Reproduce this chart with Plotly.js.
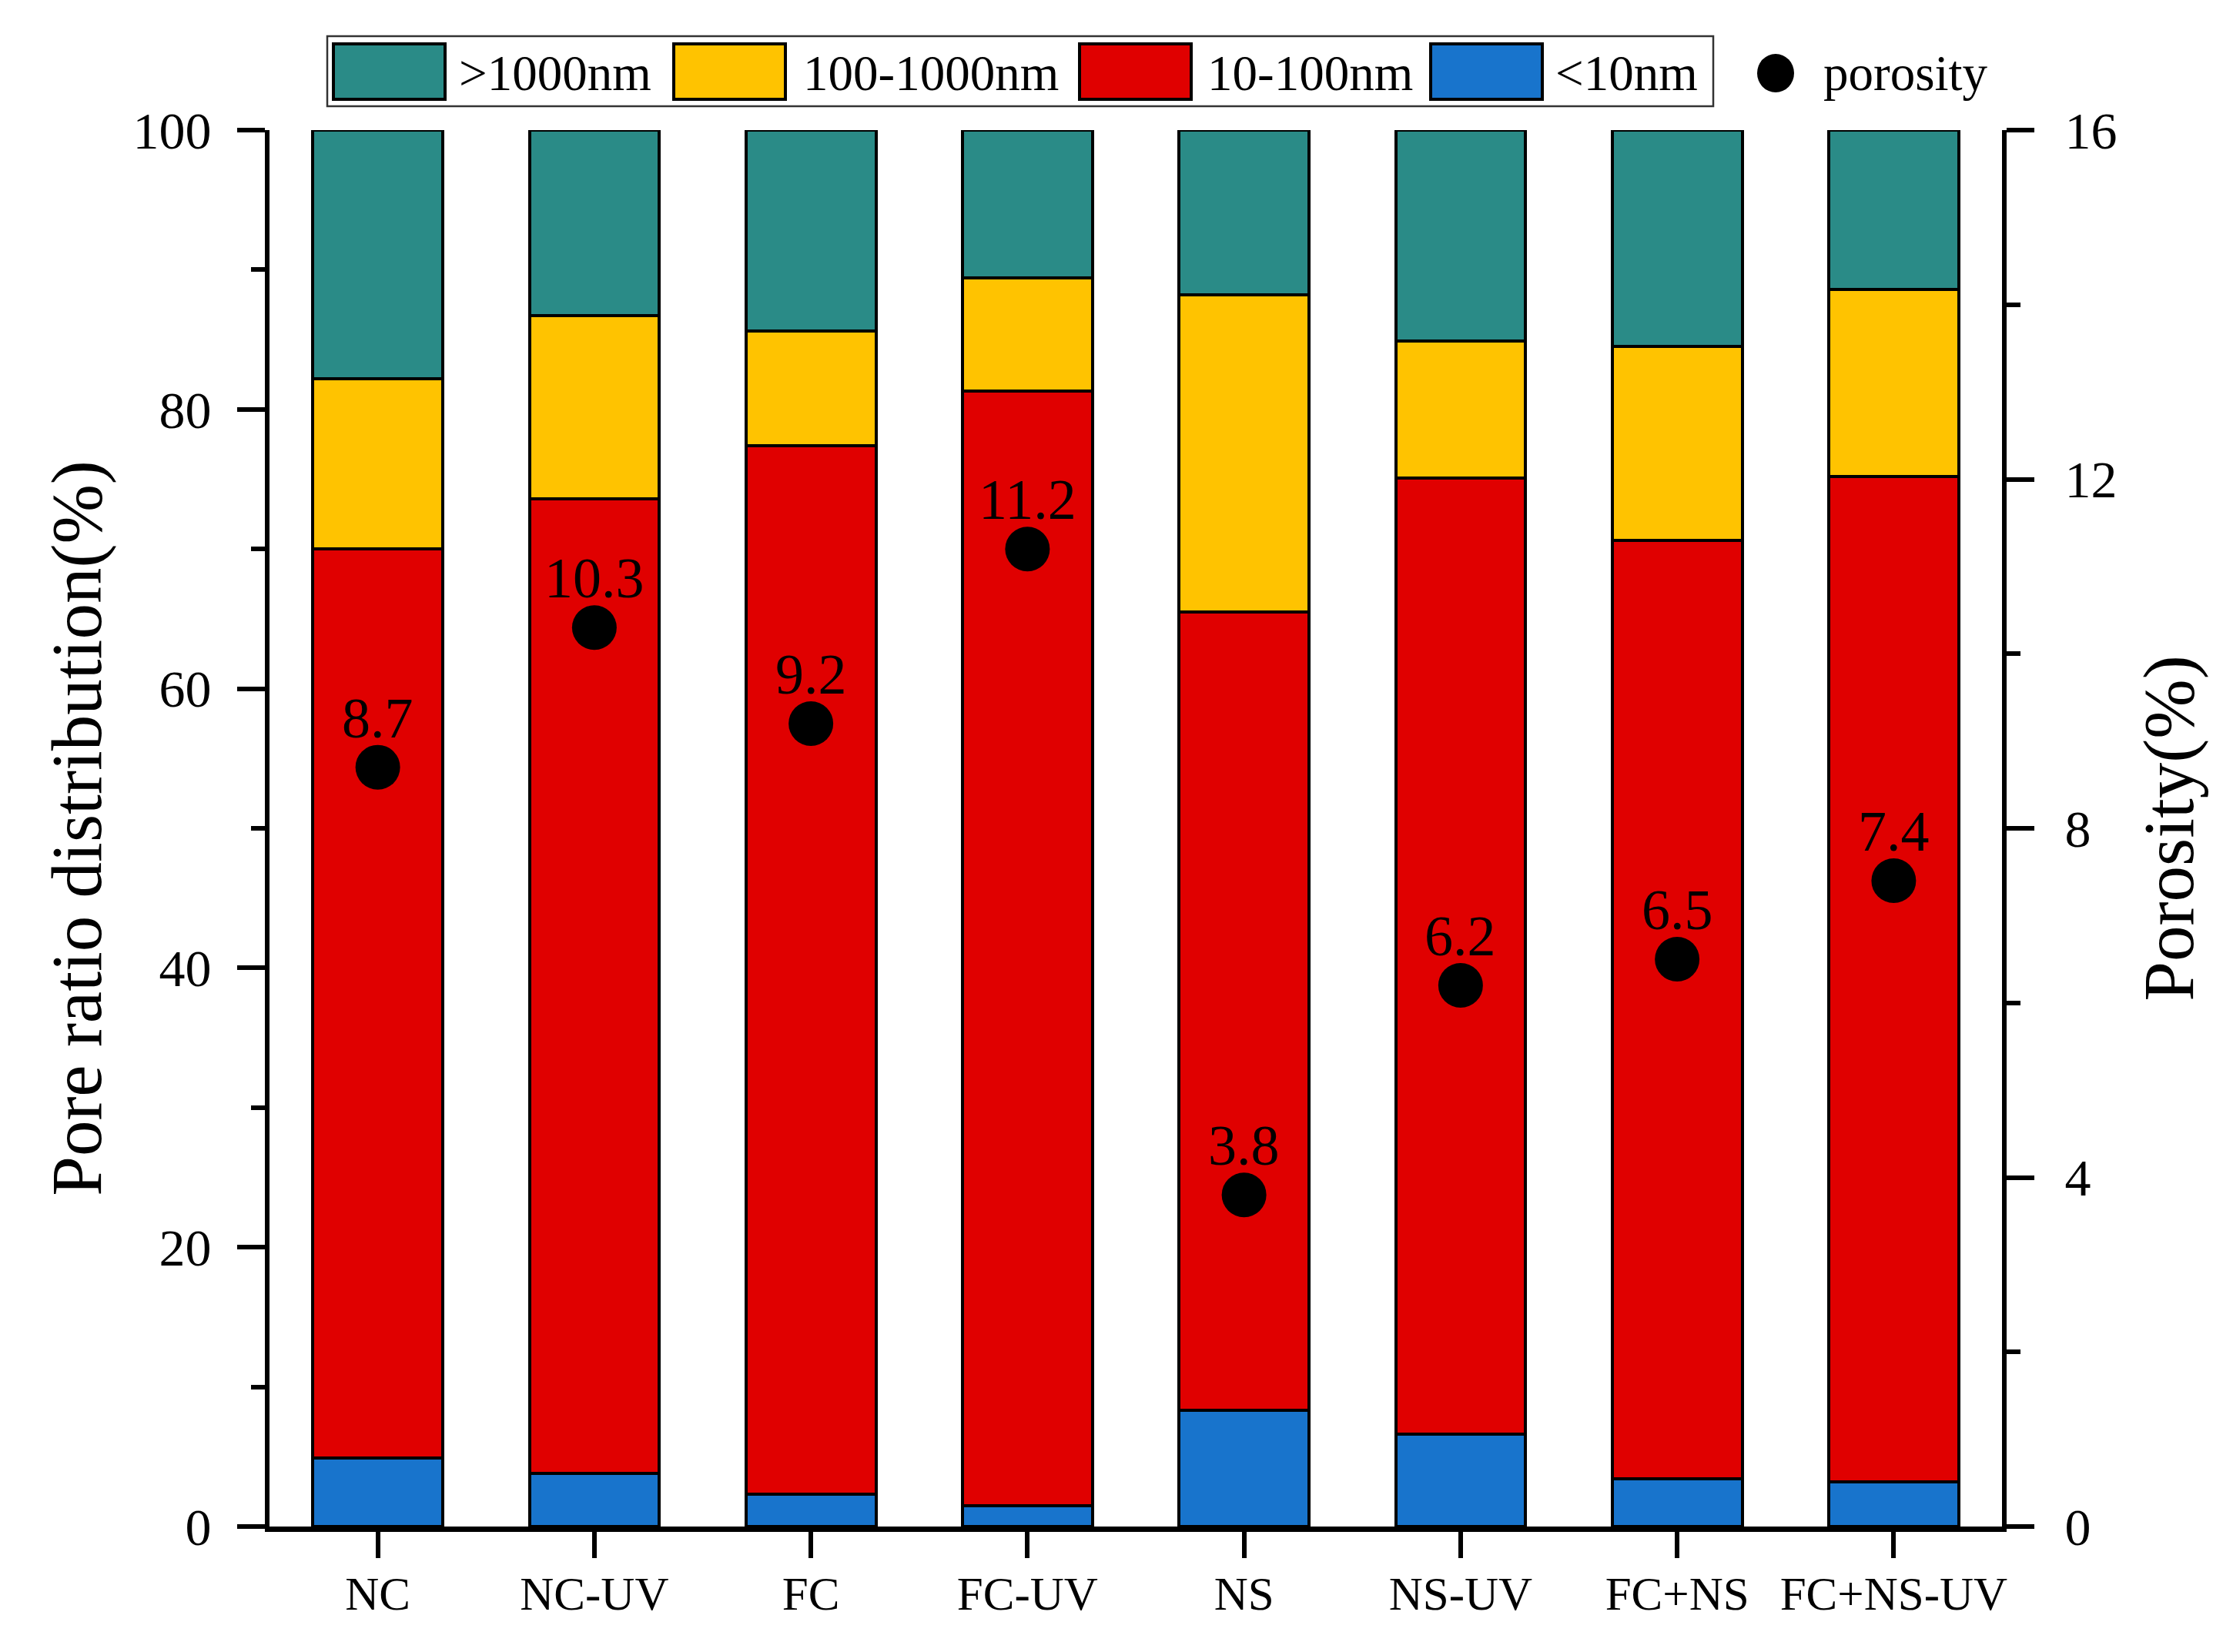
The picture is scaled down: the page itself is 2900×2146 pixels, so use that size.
<!DOCTYPE html>
<html>
<head>
<meta charset="utf-8">
<script src="https://cdn.plot.ly/plotly-3.0.1.min.js"></script>
<style>
  html, body { margin: 0; padding: 0; background: white; }
  #chart { width: 2900px; height: 2146px; }
</style>
</head>
<body>
<div id="chart"></div>
<script>
// pore size distribution (stacked %, bottom to top) + porosity on right axis
const samples = ['NC', 'NC-UV', 'FC', 'FC-UV', 'NS', 'NS-UV', 'FC+NS', 'FC+NS-UV'];
const poreLt10 = [4.9, 3.8, 2.3, 1.5, 8.3, 6.6, 3.4, 3.2];
const pore10to100 = [65.1, 69.8, 75.1, 79.8, 57.2, 68.5, 67.2, 72.0];
const pore100to1000 = [12.2, 13.1, 8.2, 8.1, 22.7, 9.8, 13.9, 13.4];
const poreGt1000 = [17.8, 13.3, 14.4, 10.6, 11.8, 15.1, 15.5, 11.4];
const porosity = [8.7, 10.3, 9.2, 11.2, 3.8, 6.2, 6.5, 7.4];

const seriesNames = ['>1000nm', '100-1000nm', '10-100nm', '<10nm'];
const seriesColors = ['#2a8b87', '#ffc300', '#e00000', '#1874cc'];

const FONT = 'Liberation Serif, Times New Roman, serif';
const W = 2900, H = 2146;
const M = { l: 350, r: 300, t: 169, b: 163 };

function bar(name, vals, color) {
  return {
    type: 'bar',
    name: name,
    x: samples,
    y: vals,
    width: 0.6,
    marker: { color: color, line: { color: 'black', width: 4 } },
    showlegend: false
  };
}

const traces = [
  bar(seriesNames[3], poreLt10, seriesColors[3]),
  bar(seriesNames[2], pore10to100, seriesColors[2]),
  bar(seriesNames[1], pore100to1000, seriesColors[1]),
  bar(seriesNames[0], poreGt1000, seriesColors[0]),
  {
    type: 'scatter',
    name: 'porosity',
    x: samples,
    y: porosity,
    yaxis: 'y2',
    mode: 'markers',
    marker: { color: 'black', size: 58 },
    cliponaxis: false,
    showlegend: false
  }
];

// --- hand-made legend (big swatches like the original) ---
const plotW = W - M.l - M.r, plotH = H - M.t - M.b;
const px = v => (v - M.l) / plotW;
const py = v => (H - M.b - v) / plotH;

const shapes = [];
const annotations = [];

// porosity value labels just above each dot
samples.forEach((s, i) => {
  annotations.push({
    x: s, y: porosity[i], xref: 'x', yref: 'y2',
    text: porosity[i].toFixed(1), showarrow: false,
    xanchor: 'center', yanchor: 'middle', yshift: 64,
    font: { family: FONT, size: 74, color: 'black' }
  });
});

shapes.push({
  type: 'rect', xref: 'paper', yref: 'paper',
  x0: px(425), x1: px(2225), y0: py(47), y1: py(138),
  line: { color: '#333', width: 2.5 }, fillcolor: 'white'
});

const swatchX = [433, 875, 1402, 1858];
const labelX = [594, 1041, 1566, 2018];
for (let i = 0; i < 4; i++) {
  shapes.push({
    type: 'rect', xref: 'paper', yref: 'paper',
    x0: px(swatchX[i]), x1: px(swatchX[i] + 145), y0: py(57), y1: py(129),
    line: { color: 'black', width: 4 }, fillcolor: seriesColors[i]
  });
  annotations.push({
    xref: 'paper', yref: 'paper', x: px(labelX[i]), y: py(95),
    xanchor: 'left', yanchor: 'middle', showarrow: false,
    text: seriesNames[i], font: { family: FONT, size: 65, color: 'black' }
  });
}
shapes.push({
  type: 'circle', xref: 'paper', yref: 'paper',
  x0: px(2282), x1: px(2330), y0: py(70), y1: py(120),
  line: { color: 'black', width: 0 }, fillcolor: 'black'
});
annotations.push({
  xref: 'paper', yref: 'paper', x: px(2366), y: py(95),
  xanchor: 'left', yanchor: 'middle', showarrow: false,
  text: 'porosity', font: { family: FONT, size: 65, color: 'black' }
});

const layout = {
  width: W,
  height: H,
  margin: M,
  barmode: 'stack',
  paper_bgcolor: 'white',
  plot_bgcolor: 'white',
  font: { family: FONT, color: 'black' },
  showlegend: false,
  xaxis: {
    type: 'category',
    categoryorder: 'array',
    categoryarray: samples,
    range: [-0.5, 7.5],
    showgrid: false,
    zeroline: false,
    showline: true,
    linecolor: 'black',
    linewidth: 7,
    ticks: 'outside',
    ticklen: 34,
    tickwidth: 6,
    tickcolor: 'black',
    ticklabelstandoff: -6,
    tickfont: { family: FONT, size: 61, color: 'black' }
  },
  yaxis: {
    range: [0, 100],
    tickvals: [0, 20, 40, 60, 80, 100],
    showgrid: false,
    zeroline: false,
    showline: true,
    linecolor: 'black',
    linewidth: 6,
    ticks: 'outside',
    ticklen: 36,
    tickwidth: 6,
    tickcolor: 'black',
    minor: { dtick: 10, ticks: 'outside', ticklen: 18, tickwidth: 6, tickcolor: 'black', showgrid: false },
    ticklabelstandoff: 20,
    tickfont: { family: FONT, size: 68, color: 'black' },
    title: { text: 'Pore ratio distribution(%)', font: { family: FONT, size: 93, color: 'black' }, standoff: 12 }
  },
  yaxis2: {
    overlaying: 'y',
    side: 'right',
    range: [0, 16],
    tickvals: [0, 4, 8, 12, 16],
    showgrid: false,
    zeroline: false,
    showline: true,
    linecolor: 'black',
    linewidth: 6,
    ticks: 'outside',
    ticklen: 36,
    tickwidth: 6,
    tickcolor: 'black',
    minor: { dtick: 2, ticks: 'outside', ticklen: 18, tickwidth: 6, tickcolor: 'black', showgrid: false },
    ticklabelstandoff: 26,
    tickfont: { family: FONT, size: 68, color: 'black' },
    title: { text: 'Porosity(%)', font: { family: FONT, size: 93, color: 'black' }, standoff: 36 }
  },
  shapes: shapes,
  annotations: annotations
};

Plotly.newPlot('chart', traces, layout, { displayModeBar: false, staticPlot: true });
</script>
</body>
</html>
